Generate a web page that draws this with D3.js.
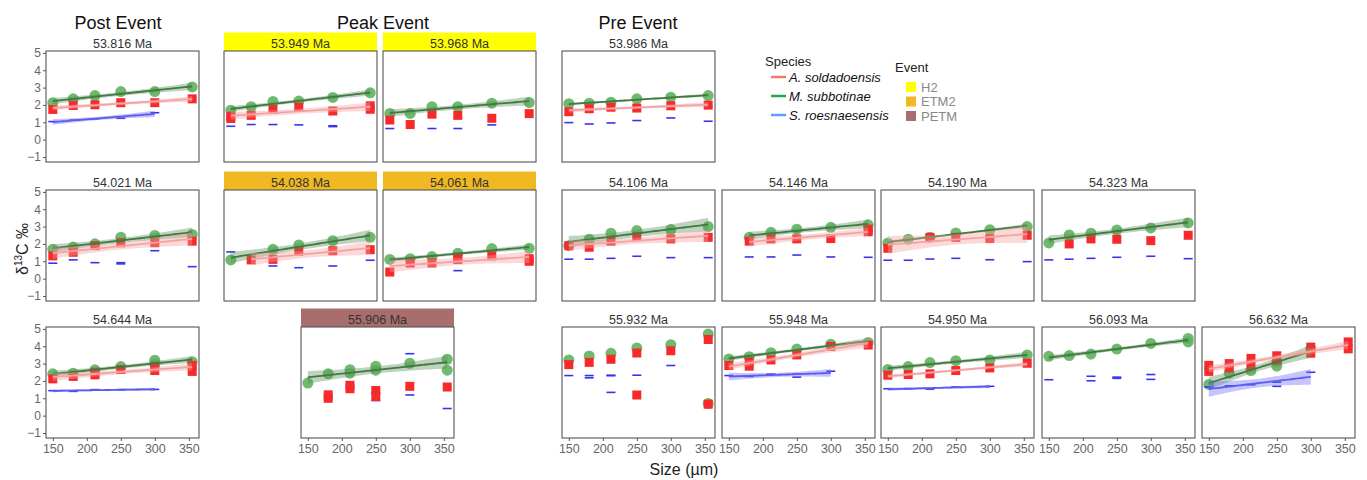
<!DOCTYPE html>
<html>
<head>
<meta charset="utf-8">
<script src="https://cdn.jsdelivr.net/npm/d3@7"></script>
<style>
  body { margin: 0; background: #fff; }
  svg { font-family: "Liberation Sans", Arial, sans-serif; }
  .tick-label { fill: #666; font-size: 12px; }
  .strip { fill: #333; font-size: 12.5px; }
</style>
</head>
<body>
<svg id="chart" width="1367" height="480"></svg>
<script>
// panel ages (Ma) and the event of the highlighted ones
const ages = ['53.816', '53.949', '53.968', '53.986', '54.021', '54.038', '54.061', '54.106',
  '54.146', '54.190', '54.323', '54.644', '55.906', '55.932', '55.948', '54.950', '56.093', '56.632'];
const eventOf = { '53.949': 'H2', '53.968': 'H2', '54.038': 'ETM2', '54.061': 'ETM2', '55.906': 'PETM' };
const events = ['H2', 'ETM2', 'PETM'];
const species = ['A. soldadoensis', 'M. subbotinae', 'S. roesnaesensis'];
const sizeTicks = [150, 200, 250, 300, 350];
const d13cTicks = [-1, 0, 1, 2, 3, 4, 5];

// [age, size µm, δ13C]
const subbotinae = [
  ['53.816', 150, 2.13], ['53.816', 180, 2.35], ['53.816', 212, 2.54], ['53.816', 250, 2.77], ['53.816', 300, 2.77], ['53.816', 355, 3.04],
  ['53.949', 150, 1.70], ['53.949', 180, 1.90], ['53.949', 212, 2.20], ['53.949', 250, 2.22], ['53.949', 300, 2.43], ['53.949', 355, 2.70],
  ['53.968', 150, 1.51], ['53.968', 180, 1.51], ['53.968', 212, 1.90], ['53.968', 250, 1.90], ['53.968', 300, 2.10], ['53.968', 355, 2.14],
  ['53.986', 150, 2.07], ['53.986', 180, 2.10], ['53.986', 212, 2.16], ['53.986', 250, 2.35], ['53.986', 300, 2.45], ['53.986', 355, 2.54],
  ['54.021', 150, 1.70], ['54.021', 180, 1.82], ['54.021', 212, 2.01], ['54.021', 250, 2.39], ['54.021', 300, 2.49], ['54.021', 355, 2.55],
  ['54.038', 150, 1.08], ['54.038', 212, 1.69], ['54.038', 250, 1.94], ['54.038', 300, 2.19], ['54.038', 355, 2.38],
  ['54.061', 150, 1.11], ['54.061', 180, 1.15], ['54.061', 212, 1.27], ['54.061', 250, 1.46], ['54.061', 300, 1.73], ['54.061', 355, 1.75],
  ['54.106', 150, 1.90], ['54.106', 180, 2.27], ['54.106', 212, 2.62], ['54.106', 250, 2.77], ['54.106', 300, 2.83], ['54.106', 355, 3.00],
  ['54.146', 180, 2.38], ['54.146', 212, 2.67], ['54.146', 250, 2.85], ['54.146', 300, 2.96], ['54.146', 355, 3.10],
  ['54.190', 150, 2.06], ['54.190', 180, 2.27], ['54.190', 212, 2.38], ['54.190', 250, 2.63], ['54.190', 300, 2.82], ['54.190', 355, 3.00],
  ['54.323', 150, 2.06], ['54.323', 180, 2.52], ['54.323', 212, 2.62], ['54.323', 250, 2.81], ['54.323', 300, 2.92], ['54.323', 355, 3.21],
  ['54.644', 150, 2.41], ['54.644', 180, 2.45], ['54.644', 212, 2.64], ['54.644', 250, 2.83], ['54.644', 300, 3.00], ['54.644', 300, 3.20], ['54.644', 355, 3.11],
  ['55.906', 150, 1.88], ['55.906', 180, 2.41], ['55.906', 212, 2.45], ['55.906', 212, 2.65], ['55.906', 250, 2.62], ['55.906', 250, 2.85], ['55.906', 300, 3.02], ['55.906', 355, 3.25], ['55.906', 355, 2.62],
  ['55.932', 150, 3.21], ['55.932', 180, 3.44], ['55.932', 212, 3.59], ['55.932', 250, 3.90], ['55.932', 300, 4.09], ['55.932', 355, 4.70], ['55.932', 355, 0.70],
  ['55.948', 150, 3.27], ['55.948', 180, 3.40], ['55.948', 212, 3.63], ['55.948', 250, 3.84], ['55.948', 300, 4.12], ['55.948', 355, 4.22],
  ['54.950', 150, 2.66], ['54.950', 180, 2.83], ['54.950', 212, 3.06], ['54.950', 250, 3.17], ['54.950', 300, 3.21], ['54.950', 355, 3.50],
  ['56.093', 150, 3.42], ['56.093', 180, 3.46], ['56.093', 212, 3.55], ['56.093', 250, 3.84], ['56.093', 300, 4.16], ['56.093', 355, 4.25], ['56.093', 355, 4.45],
  ['56.632', 150, 1.80], ['56.632', 180, 2.45], ['56.632', 212, 2.60], ['56.632', 250, 2.85], ['56.632', 250, 3.10], ['56.632', 300, 3.84]
];

const soldadoensis = [
  ['53.816', 150, 1.74], ['53.816', 180, 1.97], ['53.816', 212, 2.01], ['53.816', 250, 2.13], ['53.816', 300, 2.13], ['53.816', 355, 2.35],
  ['53.949', 150, 1.22], ['53.949', 150, 1.35], ['53.949', 180, 1.40], ['53.949', 212, 1.74], ['53.949', 250, 1.87], ['53.949', 300, 1.65], ['53.949', 355, 1.75], ['53.949', 355, 1.95],
  ['53.968', 150, 1.13], ['53.968', 180, 0.87], ['53.968', 212, 1.47], ['53.968', 250, 1.40], ['53.968', 300, 1.23], ['53.968', 355, 1.50],
  ['53.986', 150, 1.61], ['53.986', 180, 1.78], ['53.986', 212, 1.87], ['53.986', 250, 1.82], ['53.986', 300, 1.95], ['53.986', 355, 1.99],
  ['54.021', 150, 1.31], ['54.021', 180, 1.52], ['54.021', 212, 1.90], ['54.021', 250, 2.07], ['54.021', 300, 2.07], ['54.021', 355, 2.16],
  ['54.038', 180, 1.08], ['54.038', 212, 1.11], ['54.038', 250, 1.58], ['54.038', 300, 1.61], ['54.038', 355, 1.67],
  ['54.061', 150, 0.38], ['54.061', 180, 0.90], ['54.061', 212, 0.90], ['54.061', 250, 1.10], ['54.061', 250, 1.25], ['54.061', 300, 1.31], ['54.061', 355, 1.00], ['54.061', 355, 1.15],
  ['54.106', 150, 1.90], ['54.106', 180, 1.81], ['54.106', 212, 2.16], ['54.106', 250, 2.42], ['54.106', 300, 2.29], ['54.106', 355, 2.38],
  ['54.146', 180, 2.16], ['54.146', 212, 2.29], ['54.146', 250, 2.29], ['54.146', 300, 2.31], ['54.146', 355, 2.70], ['54.146', 355, 2.85],
  ['54.190', 150, 1.75], ['54.190', 212, 2.38], ['54.190', 250, 2.38], ['54.190', 300, 2.31], ['54.190', 355, 2.50],
  ['54.323', 180, 2.00], ['54.323', 212, 2.29], ['54.323', 250, 2.27], ['54.323', 300, 2.19], ['54.323', 355, 2.50],
  ['54.644', 150, 2.12], ['54.644', 180, 2.26], ['54.644', 212, 2.35], ['54.644', 212, 2.50], ['54.644', 250, 2.66], ['54.644', 300, 2.60], ['54.644', 300, 2.85], ['54.644', 355, 2.55], ['54.644', 355, 2.90],
  ['55.906', 180, 1.00], ['55.906', 180, 1.20], ['55.906', 212, 1.55], ['55.906', 212, 1.75], ['55.906', 250, 1.10], ['55.906', 250, 1.45], ['55.906', 300, 1.69], ['55.906', 355, 1.65],
  ['55.932', 150, 2.94], ['55.932', 180, 3.07], ['55.932', 212, 3.25], ['55.932', 250, 3.61], ['55.932', 250, 1.19], ['55.932', 300, 3.74], ['55.932', 355, 4.39], ['55.932', 355, 0.66],
  ['55.948', 150, 2.89], ['55.948', 180, 2.85], ['55.948', 180, 3.10], ['55.948', 212, 3.21], ['55.948', 250, 3.50], ['55.948', 300, 3.99], ['55.948', 355, 4.07],
  ['54.950', 150, 2.33], ['54.950', 180, 2.37], ['54.950', 212, 2.41], ['54.950', 250, 2.60], ['54.950', 300, 2.75], ['54.950', 355, 3.02],
  ['56.632', 150, 2.55], ['56.632', 150, 2.90], ['56.632', 180, 2.75], ['56.632', 180, 3.00], ['56.632', 212, 2.90], ['56.632', 212, 3.30],
  ['56.632', 250, 3.20], ['56.632', 250, 3.45], ['56.632', 300, 3.60], ['56.632', 300, 3.95], ['56.632', 355, 3.85], ['56.632', 355, 4.25]
];

const roesnaesensis = [
  ['53.816', 150, 1.04], ['53.816', 180, 1.12], ['53.816', 212, 1.20], ['53.816', 250, 1.23], ['53.816', 300, 1.55],
  ['53.949', 150, 0.77], ['53.949', 180, 0.87], ['53.949', 212, 0.87], ['53.949', 250, 0.85], ['53.949', 300, 0.75], ['53.949', 300, 0.80],
  ['53.968', 150, 0.64], ['53.968', 212, 0.64], ['53.968', 250, 0.64], ['53.968', 300, 0.85],
  ['53.986', 150, 0.98], ['53.986', 180, 0.90], ['53.986', 212, 0.96], ['53.986', 250, 1.10], ['53.986', 300, 1.25], ['53.986', 355, 1.06],
  ['54.021', 150, 0.89], ['54.021', 180, 1.08], ['54.021', 212, 0.92], ['54.021', 250, 0.92], ['54.021', 250, 0.85], ['54.021', 300, 1.61], ['54.021', 355, 0.69],
  ['54.038', 150, 1.54], ['54.038', 212, 0.73], ['54.038', 250, 0.63], ['54.038', 300, 0.73], ['54.038', 355, 1.06],
  ['54.061', 250, 0.46],
  ['54.106', 150, 1.12], ['54.106', 180, 1.12], ['54.106', 212, 1.17], ['54.106', 250, 1.29], ['54.106', 300, 1.21], ['54.106', 355, 1.21],
  ['54.146', 180, 1.25], ['54.146', 212, 1.25], ['54.146', 250, 1.36], ['54.146', 300, 1.25], ['54.146', 355, 1.23],
  ['54.190', 150, 1.06], ['54.190', 180, 1.06], ['54.190', 212, 1.13], ['54.190', 250, 1.17], ['54.190', 300, 1.09], ['54.190', 355, 0.98],
  ['54.323', 150, 1.08], ['54.323', 180, 1.12], ['54.323', 212, 1.17], ['54.323', 250, 1.23], ['54.323', 300, 1.29], ['54.323', 355, 1.15],
  ['54.644', 150, 1.44], ['54.644', 180, 1.40], ['54.644', 212, 1.50], ['54.644', 250, 1.50], ['54.644', 300, 1.51],
  ['55.906', 250, 0.87], ['55.906', 300, 3.57], ['55.906', 300, 1.19], ['55.906', 355, 0.41],
  ['55.932', 150, 2.31], ['55.932', 180, 2.31], ['55.932', 180, 2.18], ['55.932', 212, 2.33], ['55.932', 212, 2.30], ['55.932', 212, 1.34], ['55.932', 250, 2.33], ['55.932', 300, 2.89],
  ['55.948', 150, 2.31], ['55.948', 180, 2.26], ['55.948', 212, 2.39], ['55.948', 250, 2.39], ['55.948', 250, 2.22], ['55.948', 300, 2.56],
  ['54.950', 150, 1.55], ['54.950', 180, 1.55], ['54.950', 212, 1.53], ['54.950', 250, 1.65], ['54.950', 300, 1.69],
  ['56.093', 150, 2.07], ['56.093', 212, 2.27], ['56.093', 212, 2.01], ['56.093', 250, 2.22], ['56.093', 250, 2.15], ['56.093', 300, 2.37], ['56.093', 300, 2.09],
  ['56.632', 150, 1.65], ['56.632', 180, 1.72], ['56.632', 212, 1.78], ['56.632', 250, 1.93], ['56.632', 250, 1.69], ['56.632', 300, 2.50]
];

// panels where a regression is drawn
const subFits = ages.filter((a) => a !== '55.932');
const solFits = ['53.816', '53.949', '53.986', '54.021', '54.038', '54.061', '54.106', '54.146', '54.190', '54.644', '55.948', '54.950', '56.632'];
const roeFits = ['53.816', '54.644', '55.948', '54.950', '56.632'];

// ---- layout ----
const svg = d3.select('#chart');
svg.append('rect').attr('width', 1367).attr('height', 480).attr('fill', '#fff');

const panelW = 153;
const panelH = 111;
const colX = [46, 224, 383, 562, 722, 881, 1042, 1202];
const rowY = [51, 190, 327];
const place = {
  '53.816': [colX[0], 0], '53.949': [colX[1], 0], '53.968': [colX[2], 0], '53.986': [colX[3], 0],
  '54.021': [colX[0], 1], '54.038': [colX[1], 1], '54.061': [colX[2], 1], '54.106': [colX[3], 1],
  '54.146': [colX[4], 1], '54.190': [colX[5], 1], '54.323': [colX[6], 1],
  '54.644': [colX[0], 2], '55.906': [301, 2], '55.932': [colX[3], 2], '55.948': [colX[4], 2],
  '54.950': [colX[5], 2], '56.093': [colX[6], 2], '56.632': [colX[7], 2]
};

const eventColor = d3.scaleOrdinal().domain(events).range(['#ffff00', '#f0b823', '#a86e6e']);
const pointColor = { sub: '#5fb35f', sol: '#f62a2a', roe: '#3535ee' };
const lineColor = { sub: '#3f7a3f', sol: '#f4a3a3', roe: '#5b5bf2' };
const ribbonColor = { sub: '#5d8f5d', sol: '#f6a0a0', roe: '#6f6ff5' };

const x = d3.scaleLinear().domain([140, 365]).range([0, panelW]);
const y = d3.scaleLinear().domain([-1.29, 5.11]).range([panelH, 0]);

const tTable = [0, 12.706, 4.303, 3.182, 2.776, 2.571, 2.447, 2.365, 2.306, 2.262, 2.228];

function fitLine(pts) {
  const n = pts.length;
  const mx = d3.mean(pts, (d) => d[1]);
  const my = d3.mean(pts, (d) => d[2]);
  const sxx = d3.sum(pts, (d) => (d[1] - mx) ** 2);
  const b = d3.sum(pts, (d) => (d[1] - mx) * (d[2] - my)) / sxx;
  const a = my - b * mx;
  const rss = d3.sum(pts, (d) => (d[2] - a - b * d[1]) ** 2);
  const s = Math.sqrt(rss / (n - 2));
  const t = tTable[Math.min(n - 2, 10)];
  const [x0, x1] = d3.extent(pts, (d) => d[1]);
  const xs = d3.range(0, 41).map((i) => x0 + (x1 - x0) * i / 40);
  return xs.map((xv) => {
    const fit = a + b * xv;
    const se = s * Math.sqrt(1 / n + (xv - mx) ** 2 / sxx);
    return { x: xv, fit: fit, lo: fit - t * se, hi: fit + t * se };
  });
}

const sets = [
  { key: 'sub', data: subbotinae, fits: subFits },
  { key: 'roe', data: roesnaesensis, fits: roeFits },
  { key: 'sol', data: soldadoensis, fits: solFits }
];

ages.forEach((age) => {
  const [px, row] = place[age];
  const g = svg.append('g').attr('transform', `translate(${px},${rowY[row]})`);

  // strip
  if (eventOf[age]) {
    g.append('rect').attr('x', 0).attr('y', -18.5).attr('width', panelW).attr('height', 18.5)
      .attr('fill', eventColor(eventOf[age]));
  }
  g.append('text').attr('class', 'strip').attr('x', panelW / 2).attr('y', -3.5)
    .attr('text-anchor', 'middle').text(age + ' Ma');

  const clip = 'clip' + age.replace('.', '');
  g.append('clipPath').attr('id', clip).append('rect').attr('width', panelW).attr('height', panelH);
  const plot = g.append('g').attr('clip-path', `url(#${clip})`);

  // points
  sets.forEach((s) => {
    const pts = s.data.filter((d) => d[0] === age);
    if (s.key === 'sub') {
      plot.selectAll('.c').data(pts).join('circle')
        .attr('cx', (d) => x(d[1])).attr('cy', (d) => y(d[2])).attr('r', 5.5)
        .attr('fill', pointColor.sub).attr('fill-opacity', 0.9);
    } else if (s.key === 'sol') {
      plot.selectAll('.sq').data(pts).join('rect')
        .attr('x', (d) => x(d[1]) - 4.5).attr('y', (d) => y(d[2]) - 4.5)
        .attr('width', 9).attr('height', 9).attr('fill', pointColor.sol);
    } else {
      plot.selectAll('.ds').data(pts).join('line')
        .attr('x1', (d) => x(d[1]) - 4.5).attr('x2', (d) => x(d[1]) + 4.5)
        .attr('y1', (d) => y(d[2])).attr('y2', (d) => y(d[2]))
        .attr('stroke', pointColor.roe).attr('stroke-width', 1.6);
    }
  });

  // regressions with 95% confidence band
  sets.forEach((s) => {
    if (!s.fits.includes(age)) return;
    const pts = s.data.filter((d) => d[0] === age);
    const band = fitLine(pts);
    plot.append('path').datum(band)
      .attr('d', d3.area().x((d) => x(d.x)).y0((d) => y(d.lo)).y1((d) => y(d.hi)))
      .attr('fill', ribbonColor[s.key]).attr('fill-opacity', 0.4);
    plot.append('path').datum(band)
      .attr('d', d3.line().x((d) => x(d.x)).y((d) => y(d.fit)))
      .attr('fill', 'none').attr('stroke', lineColor[s.key]).attr('stroke-width', 1.8);
  });

  g.append('rect').attr('width', panelW).attr('height', panelH)
    .attr('fill', 'none').attr('stroke', '#555').attr('stroke-width', 1.1);

  if (px === colX[0]) {
    const ya = g.append('g').call(d3.axisLeft(y).tickValues(d13cTicks).tickSize(3).tickPadding(2)
      .tickFormat((d) => (d < 0 ? '\u2212' + Math.abs(d) : d)));
    ya.select('.domain').remove();
    ya.selectAll('line').attr('stroke', '#555');
    ya.selectAll('text').attr('class', 'tick-label').attr('fill', null).style('font-size', '12px').style('font-family', 'inherit');
  }
  if (row === 2) {
    const xa = g.append('g').attr('transform', `translate(0,${panelH})`)
      .call(d3.axisBottom(x).tickValues(sizeTicks).tickSize(3).tickPadding(3));
    xa.select('.domain').remove();
    xa.selectAll('line').attr('stroke', '#555');
    xa.selectAll('text').attr('class', 'tick-label').attr('fill', null).style('font-size', '12.5px').style('font-family', 'inherit');
  }
});

// group titles
[['Post Event', 118], ['Peak Event', 383], ['Pre Event', 638]].forEach(([t, cx]) => {
  svg.append('text').attr('x', cx).attr('y', 29).attr('text-anchor', 'middle')
    .style('font-size', '18px').attr('fill', '#111').text(t);
});

// axis titles
svg.append('text').attr('x', 684).attr('y', 475).attr('text-anchor', 'middle')
  .style('font-size', '16px').attr('fill', '#222').text('Size (\u00b5m)');
const yl = svg.append('text').attr('transform', 'translate(28,249) rotate(-90)')
  .attr('text-anchor', 'middle').style('font-size', '16px').attr('fill', '#222');
yl.append('tspan').text('\u03b4');
yl.append('tspan').attr('dy', -6).style('font-size', '10px').text('13');
yl.append('tspan').attr('dy', 6).text('C \u2030');

// legends
const leg = svg.append('g');
leg.append('text').attr('x', 765).attr('y', 66).style('font-size', '13px').attr('fill', '#222').text('Species');
const legLine = ['#f8766d', '#1fab45', '#619cff'];
species.forEach((sp, i) => {
  const yy = 77 + i * 19;
  leg.append('line').attr('x1', 771).attr('x2', 786).attr('y1', yy).attr('y2', yy)
    .attr('stroke', legLine[i]).attr('stroke-width', 2.5);
  leg.append('text').attr('x', 789).attr('y', yy + 5).style('font-size', '13px')
    .style('font-style', 'italic').attr('fill', '#111').text(sp);
});
leg.append('text').attr('x', 895).attr('y', 72).style('font-size', '13px').attr('fill', '#222').text('Event');
events.forEach((ev, i) => {
  const yy = 87 + i * 14.5;
  leg.append('rect').attr('x', 906).attr('y', yy - 5).attr('width', 10).attr('height', 10).attr('fill', eventColor(ev));
  leg.append('text').attr('x', 921).attr('y', yy + 4.5).style('font-size', '13px').attr('fill', '#888').text(ev);
});
</script>
</body>
</html>
